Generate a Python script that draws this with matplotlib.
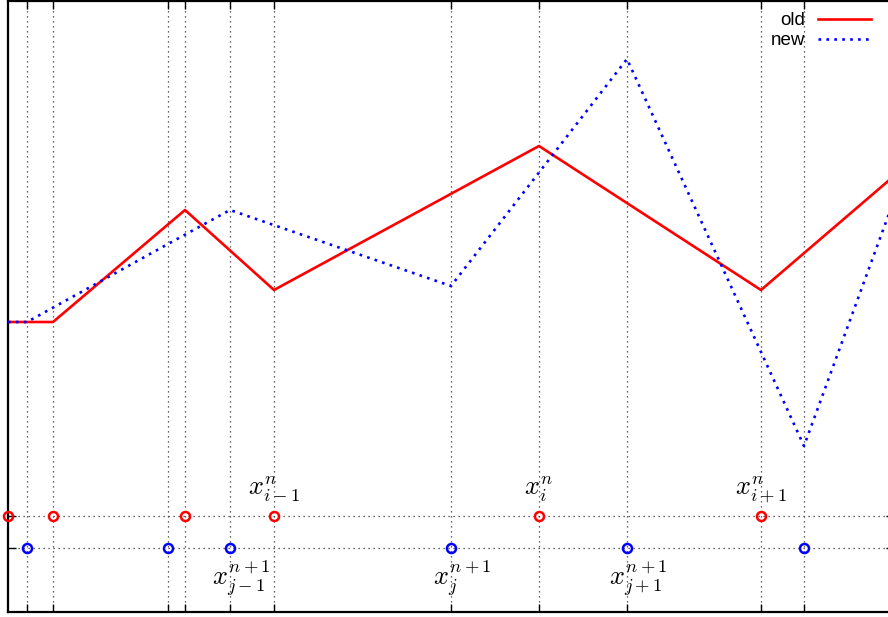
import matplotlib.pyplot as plt

plt.rcParams['mathtext.fontset'] = 'cm'

# old / new grid nodes and values
x_old = [8, 53, 185, 274, 539, 761, 894]
y_old = [290, 290, 402, 322, 466, 322, 436]
x_new = [8, 27, 168, 230, 451, 627, 804, 894]
y_new = [290, 290, 368, 402, 326, 553, 166, 412]

row_old = 96
row_new = 64

grid_x = [27, 53, 168, 185, 230, 274, 451, 539, 627, 761, 804]

labels_old = {274: r'$x_{i-1}^{n}$', 539: r'$x_{i}^{n}$', 761: r'$x_{i+1}^{n}$'}
labels_new = {230: r'$x_{j-1}^{n+1}$', 451: r'$x_{j}^{n+1}$', 627: r'$x_{j+1}^{n+1}$'}

fig = plt.figure(figsize=(8.88, 6.17), dpi=100)
ax = fig.add_axes([8/888, 5/617, (894-8)/888, 611/617])

ax.plot(x_old, y_old, color='#ff0000', lw=1.9, label='old', zorder=3)
ax.plot(x_new, y_new, color='#0000ff', lw=1.9, ls=(0, (1, 2)), label='new', zorder=3)

ax.plot(x_old, [row_old]*len(x_old), 'o', color='#ff0000', ms=6.5, mew=1.8,
        fillstyle='none', zorder=4, clip_on=False)
ax.plot(x_new[1:], [row_new]*(len(x_new)-1), 'o', color='#0000ff', ms=6.5, mew=1.8,
        fillstyle='none', zorder=4, clip_on=False)

for x, s in labels_old.items():
    ax.annotate(s, (x, row_old), xytext=(0, 9), textcoords='offset points',
                ha='center', va='bottom', fontsize=19)
for x, s in labels_new.items():
    ax.annotate(s, (x, row_new), xytext=(8, -7), textcoords='offset points',
                ha='center', va='top', fontsize=19)

ax.set_xlim(8, 894)
ax.set_ylim(0, 611)
ax.set_xticks(grid_x)
ax.set_yticks([row_new, row_old])
ax.set_xticklabels([])
ax.set_yticklabels([])
ax.tick_params(direction='in', length=6, width=1, top=True, right=True)
ax.grid(True, ls=(0, (1, 3)), color='#333333', lw=0.9)
for s in ax.spines.values():
    s.set_linewidth(1.6)

ax.legend(loc='upper right', bbox_to_anchor=(883/888, 1.0), bbox_transform=fig.transFigure,
          frameon=False, markerfirst=False, handlelength=2.8,
          handletextpad=0.7, labelspacing=0.15, borderaxespad=0.25,
          prop={'family': 'Liberation Sans', 'size': 13.5})

fig.savefig('out.png', dpi=100)
